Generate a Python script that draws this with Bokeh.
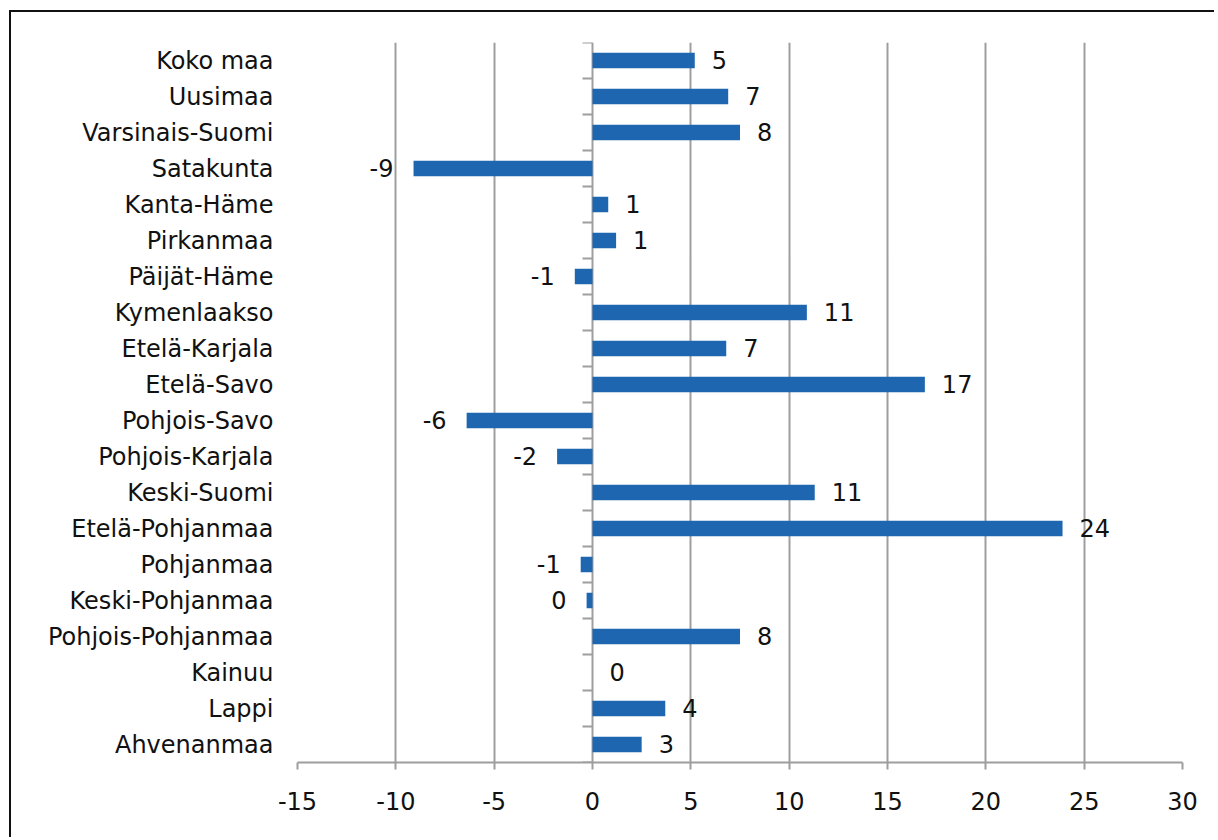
import math
from bokeh.plotting import figure
from bokeh.models import ColumnDataSource, FixedTicker, Range1d
from bokeh.core.properties import value
from bokeh.embed import file_html
from bokeh.resources import INLINE

regions = ["Koko maa", "Uusimaa", "Varsinais-Suomi", "Satakunta", "Kanta-Häme",
           "Pirkanmaa", "Päijät-Häme", "Kymenlaakso", "Etelä-Karjala", "Etelä-Savo",
           "Pohjois-Savo", "Pohjois-Karjala", "Keski-Suomi", "Etelä-Pohjanmaa",
           "Pohjanmaa", "Keski-Pohjanmaa", "Pohjois-Pohjanmaa", "Kainuu", "Lappi",
           "Ahvenanmaa"]
values = [5.2, 6.9, 7.5, -9.1, 0.8, 1.2, -0.9, 10.9, 6.8, 16.9,
          -6.4, -1.8, 11.3, 23.9, -0.6, -0.3, 7.5, 0.0, 3.7, 2.5]
value_labels = ["5", "7", "8", "-9", "1", "1", "-1", "11", "7", "17",
                "-6", "-2", "11", "24", "-1", "0", "8", "0", "4", "3"]
x_ticks = [-15, -10, -5, 0, 5, 10, 15, 20, 25, 30]
x_tick_labels = ["-15", "-10", "-5", "0", "5", "10", "15", "20", "25", "30"]

FONT = "DejaVu Sans"
BLUE = "#1F66B0"
GRID = "#9e9e9e"

n = len(regions)
ypos = list(range(n))
src = ColumnDataSource(dict(
    y=ypos,
    v=values,
    lab=value_labels,
    xoff=[17 if v >= 0 else -20 for v in values],
    align=["left" if v >= 0 else "right" for v in values],
))

p = figure(width=1205, height=827, output_backend="svg", toolbar_location=None,
           x_range=Range1d(x_ticks[0], x_ticks[-1]),
           y_range=Range1d(n - 0.5, -0.5),
           min_border_left=286, min_border_top=30, min_border_right=34,
           min_border_bottom=77)
p.styles = {"border-top": "2px solid #111", "border-left": "2px solid #111",
            "border-right": "none", "border-bottom": "none",
            "margin-left": "9px", "margin-top": "10px"}
p.outline_line_color = None
p.background_fill_color = "white"
p.border_fill_color = "white"

p.hbar(y="y", left=0, right="v", height=0.43, source=src,
       fill_color=BLUE, line_color=None)

p.text(x="v", y="y", text="lab", source=src, x_offset="xoff", text_align="align",
       text_baseline="middle", text_font=value(FONT), text_font_size="24px",
       text_color="#111111", y_offset=-1)

# category boundary ticks on the zero line
bounds = [i - 0.5 for i in range(n + 1)]
p.ray(x=[0] * len(bounds), y=bounds, length=10, length_units="screen",
      angle=math.pi, line_color=GRID, line_width=2)

# x axis
xa = p.xaxis[0]
xa.ticker = FixedTicker(ticks=x_ticks)
xa.major_label_overrides = {t: s for t, s in zip(x_ticks, x_tick_labels)}
xa.axis_line_color = GRID
xa.axis_line_width = 2
xa.major_tick_line_color = GRID
xa.major_tick_line_width = 2
xa.major_tick_out = 7
xa.major_tick_in = 0
xa.minor_tick_line_color = None
xa.major_label_text_font = FONT
xa.major_label_text_font_size = "24px"
xa.major_label_text_color = "#111111"
xa.major_label_standoff = 22

# y axis (categories)
ya = p.yaxis[0]
ya.ticker = FixedTicker(ticks=ypos)
ya.major_label_overrides = {i: r for i, r in enumerate(regions)}
ya.axis_line_color = None
ya.major_tick_line_color = None
ya.minor_tick_line_color = None
ya.major_tick_out = 0
ya.major_tick_in = 0
ya.major_label_standoff = 24
ya.major_label_text_font = FONT
ya.major_label_text_font_size = "24px"
ya.major_label_text_color = "#111111"

p.xgrid.grid_line_color = GRID
p.xgrid.grid_line_width = 2
p.xgrid.ticker = FixedTicker(ticks=x_ticks)
p.ygrid.grid_line_color = None

open("out.html", "w").write(file_html(p, INLINE))
